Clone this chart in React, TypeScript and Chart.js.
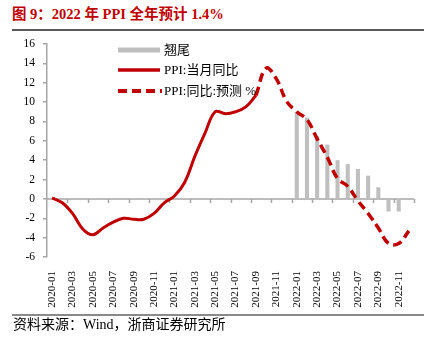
import React, { useEffect, useRef } from "react";
import { Chart, registerables } from "chart.js";

Chart.register(...registerables);

const months: string[] = [
  "2020-01","2020-02","2020-03","2020-04","2020-05","2020-06","2020-07","2020-08","2020-09","2020-10","2020-11","2020-12",
  "2021-01","2021-02","2021-03","2021-04","2021-05","2021-06","2021-07","2021-08","2021-09","2021-10","2021-11","2021-12",
  "2022-01","2022-02","2022-03","2022-04","2022-05","2022-06","2022-07","2022-08","2022-09","2022-10","2022-11","2022-12",
];

const tailEffect: (number | null)[] = [
  null,null,null,null,null,null,null,null,null,null,null,null,
  null,null,null,null,null,null,null,null,null,null,null,null,
  9.0,8.4,6.5,5.6,4.0,3.6,3.1,2.4,1.2,-1.3,-1.3,null,
];

const ppiActual: (number | null)[] = [
  0.1,-0.4,-1.5,-3.1,-3.7,-3.0,-2.4,-2.0,-2.1,-2.1,-1.5,-0.4,
  0.3,1.7,4.4,6.8,9.0,8.8,9.0,9.5,10.7,null,null,null,
  null,null,null,null,null,null,null,null,null,null,null,null,
];

const ppiForecast: (number | null)[] = [
  null,null,null,null,null,null,null,null,null,null,null,null,
  null,null,null,null,null,null,null,null,10.7,13.5,12.4,10.1,
  9.0,8.2,6.2,4.3,2.1,1.3,-0.2,-1.5,-3.0,-4.6,-4.6,-3.3,
];

const legendLabels = ["翘尾", "PPI:当月同比", "PPI:同比:预测 %"];
const titleText = "图 9：2022 年 PPI 全年预计 1.4%";
const sourceText = "资料来源：Wind，浙商证券研究所";

const RED = "#C00000";
const GRAY_BAR = "#BFBFBF";
const AXIS = "#A6A6A6";
const FONT = '"Liberation Serif", "Noto Sans CJK SC", serif';

const zeroLinePlugin = {
  id: "zeroLine",
  beforeDatasetsDraw(chart: any) {
    const { ctx, chartArea, scales } = chart;
    const y = scales.y.getPixelForValue(0);
    const n = chart.data.labels.length;
    const w = (chartArea.right - chartArea.left) / n;
    ctx.save();
    ctx.strokeStyle = AXIS;
    ctx.lineWidth = 1.5;
    ctx.beginPath();
    ctx.moveTo(chartArea.left, y);
    ctx.lineTo(chartArea.right, y);
    for (let k = 2; k <= n; k += 2) {
      const x = Math.round(chartArea.left + k * w) + 0.5;
      ctx.moveTo(x, y);
      ctx.lineTo(x, y + 4);
    }
    ctx.stroke();
    ctx.restore();
  },
};

export default function App() {
  const ref = useRef<HTMLCanvasElement>(null);

  useEffect(() => {
    if (!ref.current) return;
    const chart = new Chart(ref.current, {
      type: "bar",
      data: {
        labels: months,
        datasets: [
          {
            type: "bar",
            label: legendLabels[0],
            data: tailEffect,
            backgroundColor: GRAY_BAR,
            barPercentage: 0.4,
            categoryPercentage: 1,
            order: 3,
          },
          {
            type: "line",
            label: legendLabels[1],
            data: ppiActual,
            borderColor: RED,
            borderWidth: 3,
            pointRadius: 0,
            tension: 0.4,
            fill: false,
            order: 1,
          },
          {
            type: "line",
            label: legendLabels[2],
            data: ppiForecast,
            borderColor: RED,
            borderWidth: 3.5,
            borderDash: [9, 5],
            pointRadius: 0,
            tension: 0.4,
            fill: false,
            order: 2,
          },
        ] as any,
      },
      options: {
        animation: false,
        responsive: false,
        maintainAspectRatio: false,
        layout: { padding: { top: 44, right: 21, bottom: 37, left: 0 } },
        plugins: {
          legend: { display: false },
          tooltip: { enabled: false },
          title: { display: false },
        },
        scales: {
          x: {
            offset: true,
            grid: { display: false },
            border: { display: false },
            ticks: {
              autoSkip: false,
              maxRotation: 90,
              minRotation: 90,
              padding: 6,
              color: "#000",
              font: { family: FONT, size: 11 },
              callback: (_v: any, i: number) => (i % 2 === 0 ? months[i] : ""),
            },
            afterFit: (s: any) => {
              s.height = 52;
            },
          },
          y: {
            min: -6,
            max: 16,
            ticks: {
              stepSize: 2,
              padding: 8,
              color: "#000",
              font: { family: FONT, size: 11.5 },
            },
            grid: {
              display: true,
              drawOnChartArea: false,
              drawTicks: true,
              tickLength: 4,
              color: AXIS,
              lineWidth: 1.5,
            },
            border: { display: true, color: AXIS, width: 1.5 },
            afterFit: (s: any) => {
              s.width = 47;
            },
          },
        },
      },
      plugins: [zeroLinePlugin],
    });
    return () => chart.destroy();
  }, []);

  const legendText: React.CSSProperties = {
    position: "absolute",
    left: 164,
    fontFamily: FONT,
    fontSize: 13,
    color: "#000",
    lineHeight: "14px",
    whiteSpace: "nowrap",
  };

  return (
    <div style={{ position: "absolute", left: 0, top: 0, width: 435, height: 346, background: "#fff", overflow: "hidden" }}>
      <div
        style={{
          position: "absolute",
          left: 12,
          top: 5,
          fontFamily: FONT,
          fontWeight: "bold",
          fontSize: 14.5,
          color: RED,
          whiteSpace: "nowrap",
          lineHeight: "18px",
        }}
      >
        {titleText}
      </div>
      <div style={{ position: "absolute", left: 12, top: 29, width: 412, height: 2, background: "#5a5a5a" }} />
      <canvas ref={ref} width={435} height={346} style={{ position: "absolute", left: 0, top: 0, width: 435, height: 346 }} />
      <svg style={{ position: "absolute", left: 0, top: 0 }} width={435} height={346}>
        <rect x={118} y={47.5} width={42} height={5} fill={GRAY_BAR} />
        <line x1={118} y1={70} x2={160} y2={70} stroke={RED} strokeWidth={3.5} />
        <line x1={118} y1={91} x2={162} y2={91} stroke={RED} strokeWidth={4} strokeDasharray="9 5" />
      </svg>
      <div style={{ ...legendText, top: 43 }}>{legendLabels[0]}</div>
      <div style={{ ...legendText, top: 63 }}>{legendLabels[1]}</div>
      <div style={{ ...legendText, top: 84 }}>{legendLabels[2]}</div>
      <div style={{ position: "absolute", left: 12, top: 314, width: 412, height: 1.5, background: "#8a8a8a" }} />
      <div
        style={{
          position: "absolute",
          left: 13,
          top: 317,
          fontFamily: FONT,
          fontSize: 14,
          color: "#000",
          whiteSpace: "nowrap",
          lineHeight: "16px",
        }}
      >
        {sourceText}
      </div>
    </div>
  );
}
